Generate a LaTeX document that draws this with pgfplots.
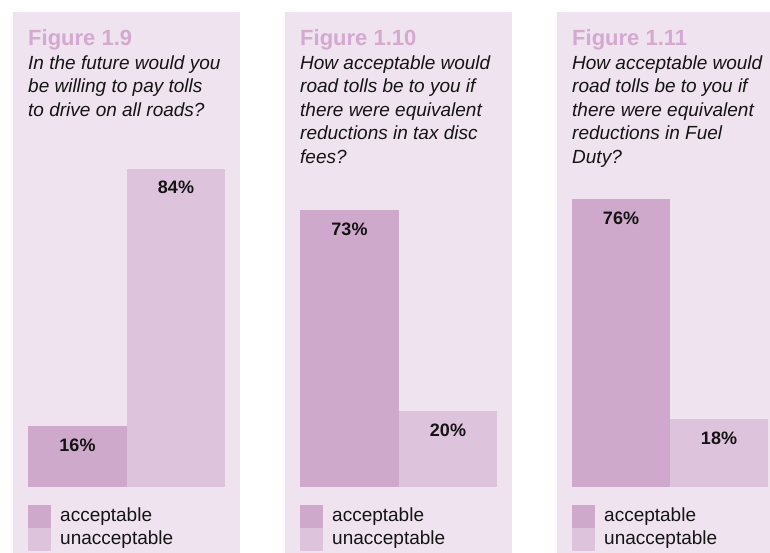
\documentclass[border=0pt]{standalone}
\usepackage{fontspec}
\setmainfont{Liberation Sans}
\usepackage{pgfplots}
\pgfplotsset{compat=1.18}
\definecolor{panelbg}{HTML}{EFE3EF}
\definecolor{acc}{HTML}{CFA9CB}
\definecolor{unacc}{HTML}{DEC3DC}
\definecolor{figtitle}{HTML}{D4A9D0}
\definecolor{txt}{HTML}{141414}
\pgfplotsset{
  sqlegend/.style={legend image code/.code={\fill[##1] (0bp,-7bp) rectangle (23bp,16bp);}},
  panel/.style={
    scale only axis, height=541bp, xmin=0, ymin=-17.41, ymax=125.33,
    hide axis, clip=false, ybar, bar width=98.5,
    /pgf/number format/assume math mode=true,
    nodes near coords={\pgfmathprintnumber{\pgfplotspointmeta}\%},
    nodes near coords align={anchor=north},
    every node near coord/.append style={font=\fontsize{18bp}{18bp}\selectfont\bfseries, anchor=north, yshift=-12.5bp, inner sep=0pt, text=txt},
    legend style={draw=none, fill=none, inner sep=0pt, row sep=0pt, column sep=9bp,
      cells={anchor=base west}, nodes={inner sep=0pt, text depth=0pt},
      font=\fontsize{19bp}{23bp}\selectfont, text=txt, anchor=north west, at={(#1,0.0887)}},
    anchor=south west,
  },
}
\newcommand{\qfont}{\fontsize{19bp}{23.5bp}\selectfont\itshape}
\newcommand{\tfont}{\fontsize{22bp}{24bp}\selectfont\bfseries}
\begin{document}
\begin{tikzpicture}
\useasboundingbox (0,0) rectangle (770bp,553bp);
\fill[panelbg] (13bp,0) rectangle (240bp,541bp);
\fill[panelbg] (285bp,0) rectangle (512bp,541bp);
\fill[panelbg] (557bp,0) rectangle (780bp,541bp);

% Panel 1
\begin{axis}[panel=0.0661, at={(13bp,0bp)}, width=227bp, xmax=227]
\addplot[fill=acc, draw=none, bar shift=0pt, sqlegend] coordinates {(64.5,16)};
\addplot[fill=unacc, draw=none, bar shift=0pt, sqlegend] coordinates {(163,84)};
\legend{acceptable, unacceptable}
\end{axis}
% Panel 2
\begin{axis}[panel=0.0661, at={(285bp,0bp)}, width=227bp, xmax=227]
\addplot[fill=acc, draw=none, bar shift=0pt, sqlegend] coordinates {(64.5,73)};
\addplot[fill=unacc, draw=none, bar shift=0pt, sqlegend] coordinates {(163,20)};
\legend{acceptable, unacceptable}
\end{axis}
% Panel 3
\begin{axis}[panel=0.0704, at={(557bp,0bp)}, width=213bp, xmax=213]
\addplot[fill=acc, draw=none, bar shift=0pt, sqlegend] coordinates {(64,76)};
\addplot[fill=unacc, draw=none, bar shift=0pt, sqlegend] coordinates {(162,18)};
\legend{acceptable, unacceptable}
\end{axis}

\begin{scope}[every node/.style={anchor=base west, inner sep=0pt, text=txt}]
\node[font=\tfont, text=figtitle] at (28bp,507bp) {Figure 1.9};
\node[font=\qfont] at (28bp,483.5bp) {In the future would you};
\node[font=\qfont] at (28bp,460bp) {be willing to pay tolls};
\node[font=\qfont] at (28bp,436.5bp) {to drive on all roads?};

\node[font=\tfont, text=figtitle] at (300bp,507bp) {Figure 1.10};
\node[font=\qfont] at (300bp,483.5bp) {How acceptable would};
\node[font=\qfont] at (300bp,460bp) {road tolls be to you if};
\node[font=\qfont] at (300bp,436.5bp) {there were equivalent};
\node[font=\qfont] at (300bp,413bp) {reductions in tax disc};
\node[font=\qfont] at (300bp,389.5bp) {fees?};

\node[font=\tfont, text=figtitle] at (572bp,507bp) {Figure 1.11};
\node[font=\qfont] at (572bp,483.5bp) {How acceptable would};
\node[font=\qfont] at (572bp,460bp) {road tolls be to you if};
\node[font=\qfont] at (572bp,436.5bp) {there were equivalent};
\node[font=\qfont] at (572bp,413bp) {reductions in Fuel};
\node[font=\qfont] at (572bp,389.5bp) {Duty?};
\end{scope}
\end{tikzpicture}
\end{document}
